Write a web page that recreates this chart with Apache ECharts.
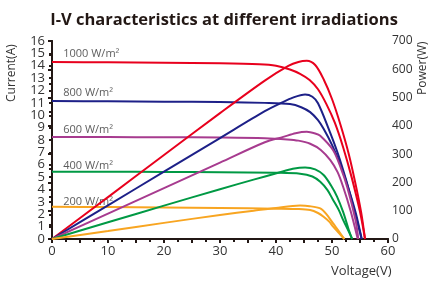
<!DOCTYPE html>
<html>
<head>
<meta charset="utf-8">
<script src="https://cdn.jsdelivr.net/npm/echarts@6/dist/echarts.min.js"></script>
<style>
html, body { margin: 0; padding: 0; background: #fff; }
#chart { width: 435px; height: 282px; }
</style>
</head>
<body>
<div id="chart"></div>
<script>
// irradiation levels
var levels = ['1000 W/m²', '800 W/m²', '600 W/m²', '400 W/m²', '200 W/m²'];
var colors = ['#e8001d', '#1d2088', '#a73b8f', '#009944', '#f8a521'];

// current curves [V, A]
var i1000 = [[0,14.3],[10,14.28],[20,14.25],[30,14.2],[37,14.12],[40,14.0],[42.5,13.7],[44.3,13.35],[46,12.85],[47.5,12.1],[49,10.9],[50.5,9.4],[52,7.4],[53.5,5.0],[55,2.2],[55.9,0]];
var i800 = [[0,11.15],[10,11.13],[20,11.1],[30,11.07],[38,11.0],[42.5,10.9],[44.5,10.65],[46.1,10.25],[47.5,9.6],[48.5,8.9],[50,7.6],[51.5,6.0],[53,4.0],[54.3,2.0],[55.3,0]];
var i600 = [[0,8.25],[10,8.24],[20,8.22],[30,8.2],[38,8.15],[42,8.05],[44,7.95],[46.1,7.7],[48,7.2],[49.7,6.37],[51,5.4],[52,4.2],[53.3,2.3],[54.6,0]];
var i400 = [[0,5.43],[10,5.43],[20,5.42],[30,5.4],[40,5.35],[44.3,5.28],[46.5,5.05],[47.9,4.62],[49.2,3.95],[50.2,3.15],[51.2,2.35],[52,1.53],[53,0.6],[53.6,0]];
var i200 = [[0,2.6],[10,2.58],[20,2.55],[30,2.5],[40,2.45],[44,2.42],[46.1,2.34],[47.5,2.1],[48.5,1.8],[49.5,1.4],[50.2,1.0],[51.2,0.5],[52.2,0]];

// power curves [V, W]
var p1000 = [[0,0],[10,148],[20,297],[30,445],[38,560],[42.2,612],[44,626],[45.5,630],[47,615],[48.5,565],[50,495],[51.5,405],[53,300],[54.2,195],[55.2,95],[55.9,0]];
var p800 = [[0,0],[10,119],[20,238],[30,357],[38,452],[41,482],[43,500],[45.2,511],[46.5,503],[47.5,480],[49.3,395],[51,305],[52.5,210],[54,100],[55.3,0]];
var p600 = [[0,0],[10,90],[20,180],[30,270],[38,342],[41.3,361],[43.5,374],[45.5,379],[47,373],[47.9,365],[50.2,314],[51.5,255],[52.7,185],[54.2,67],[54.7,0]];
var p400 = [[0,0],[10,59],[20,118],[30,176],[36,210],[40.4,234],[43,248],[45.2,253],[47,246],[48.5,226],[49.8,190],[50.9,150],[52,95],[53,32],[53.6,0]];
var p200 = [[0,0],[10,28],[20,57],[30,85],[36,100],[40,110],[44.3,118],[46,116],[47.9,108],[49,88],[50.2,55],[51.2,28],[52.2,0]];

// left tick labels 0..16
var currentTicks = ['0','1','2','3','4','5','6','7','8','9','10','11','12','13','14','15','16'];

var currents = [i1000, i800, i600, i400, i200];
var powers = [p1000, p800, p600, p400, p200];
// label rows (current value the label sits at)
var labelAmps = [15.0, 11.8, 8.8, 5.9, 3.0];

var chart = echarts.init(document.getElementById('chart'));
var axisColor = '#231815';
var textColor = '#333';

function line(data, color, yIdx) {
	return {
		type: 'line',
		data: data,
		xAxisIndex: 0,
		yAxisIndex: yIdx,
		showSymbol: false,
		smooth: 0.3,
		lineStyle: { color: color, width: 2 },
		silent: true
	};
}

var series = [];
currents.forEach(function (d, k) {
	series.push(line(d, colors[k], 0));
});
powers.forEach(function (d, k) {
	series.push(line(d, colors[k], 1));
});
// curve labels, placed in data space
series.push({
	type: 'scatter',
	xAxisIndex: 0,
	yAxisIndex: 0,
	symbolSize: 0,
	data: levels.map(function (t, k) { return { value: [2, labelAmps[k]], name: t }; }),
	label: {
		show: true,
		position: 'right',
		distance: 0,
		formatter: '{b}',
		color: textColor,
		fontSize: 11,
		fontFamily: 'Open Sans'
	},
	silent: true
});

var option = {
	animation: false,
	backgroundColor: '#fff',
	title: {
		text: 'I-V characteristics at different irradiations',
		left: 219,
		top: 7,
		textAlign: 'center',
		textStyle: { fontFamily: 'Open Sans', fontWeight: 'bold', fontSize: 16.5, color: '#231815' }
	},
	grid: { left: 52, right: 47, top: 41, bottom: 43 },
	xAxis: [{
		type: 'value',
		min: 0, max: 60, interval: 10,
		position: 'bottom',
		axisLine: { lineStyle: { color: axisColor, width: 2 } },
		axisTick: { inside: false, length: 4, lineStyle: { color: axisColor, width: 2 } },
		minorTick: { show: true, splitNumber: 2, length: 3, lineStyle: { color: axisColor, width: 2 } },
		axisLabel: { color: textColor, fontSize: 13, fontFamily: 'Open Sans', margin: 6, showMinLabel: true, showMaxLabel: true },
		splitLine: { show: false }
	}, {
		type: 'value',
		min: 0, max: 60, interval: 5,
		position: 'top',
		axisLine: { lineStyle: { color: axisColor, width: 2 } },
		axisTick: { inside: true, length: 4, lineStyle: { color: axisColor, width: 2 } },
		minorTick: { show: true, splitNumber: 2, length: 3, lineStyle: { color: axisColor, width: 2 } },
		axisLabel: { show: false },
		splitLine: { show: false }
	}],
	yAxis: [{
		type: 'value',
		min: 0, max: 16, interval: 1,
		position: 'left',
		axisLine: { show: true, lineStyle: { color: axisColor, width: 2 } },
		axisTick: { show: true, inside: false, length: 3, lineStyle: { color: axisColor, width: 2 } },
		axisLabel: { show: false },
		splitLine: { show: false }
	}, {
		type: 'value',
		min: 0, max: 700, interval: 100,
		position: 'right',
		axisLine: { show: true, lineStyle: { color: axisColor, width: 2 } },
		axisTick: { show: true, inside: true, length: 4, lineStyle: { color: axisColor, width: 2 } },
		minorTick: { show: true, splitNumber: 2, length: 3, lineStyle: { color: axisColor, width: 2 } },
		axisLabel: { color: textColor, fontSize: 12, fontFamily: 'Open Sans', margin: 4, showMinLabel: true, showMaxLabel: true },
		splitLine: { show: false }
	}, {
		// label-only axis so every integer label shows
		type: 'category',
		data: currentTicks,
		boundaryGap: false,
		position: 'left',
		axisLine: { show: false },
		axisTick: { show: false },
		axisLabel: { interval: 0, color: textColor, fontSize: 13, fontFamily: 'Open Sans', margin: 7 },
		splitLine: { show: false }
	}],
	graphic: [{
		type: 'text',
		x: 6, y: 102, rotation: Math.PI / 2,
		style: { text: 'Current(A)', fill: textColor, font: '12px "Open Sans"' }
	}, {
		type: 'text',
		x: 417, y: 95, rotation: Math.PI / 2,
		style: { text: 'Power(W)', fill: textColor, font: '12px "Open Sans"' }
	}, {
		type: 'text',
		x: 331, y: 265,
		style: { text: 'Voltage(V)', fill: textColor, font: '13px "Open Sans"' }
	}],
	series: series
};

chart.setOption(option);
</script>
</body>
</html>
